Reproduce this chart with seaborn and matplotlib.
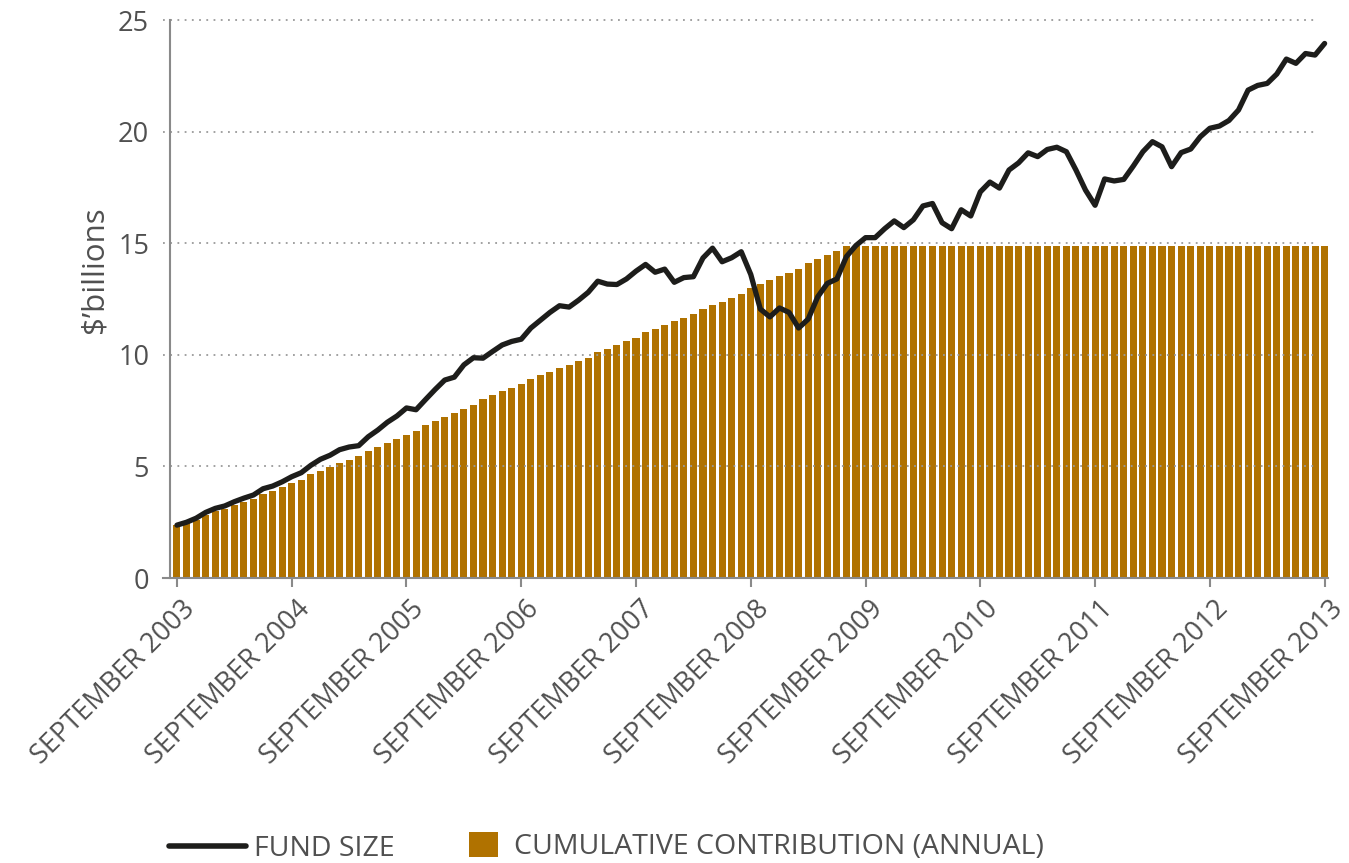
import numpy as np
import pandas as pd
import seaborn as sns
import matplotlib.pyplot as plt
from matplotlib.lines import Line2D
from matplotlib.patches import Patch
from matplotlib.transforms import ScaledTranslation

# monthly data, september 2003 .. september 2013
month = list(range(121))

contribution = [
    2.37, 2.45, 2.60, 2.82, 3.00, 3.08, 3.27, 3.42, 3.54, 3.76, 3.90, 4.08,
    4.27, 4.39, 4.66, 4.79, 4.96, 5.15, 5.29, 5.47, 5.69, 5.87, 6.05, 6.23,
    6.41, 6.59, 6.85, 7.03, 7.21, 7.39, 7.57, 7.75, 8.02, 8.20, 8.38, 8.51,
    8.69, 8.92, 9.10, 9.23, 9.41, 9.54, 9.72, 9.86, 10.13, 10.26, 10.44, 10.62,
    10.75, 11.02, 11.16, 11.34, 11.51, 11.65, 11.83, 12.05, 12.23, 12.37, 12.54, 12.72,
    12.99, 13.17, 13.35, 13.53, 13.66, 13.84, 14.11, 14.29, 14.47, 14.65, 14.87, 14.87,
    14.87, 14.87, 14.87, 14.87, 14.87, 14.87, 14.87, 14.87, 14.87, 14.87, 14.87, 14.87,
    14.87, 14.87, 14.87, 14.87, 14.87, 14.87, 14.87, 14.87, 14.87, 14.87, 14.87, 14.87,
    14.87, 14.87, 14.87, 14.87, 14.87, 14.87, 14.87, 14.87, 14.87, 14.87, 14.87, 14.87,
    14.87, 14.87, 14.87, 14.87, 14.87, 14.87, 14.87, 14.87, 14.87, 14.87, 14.87, 14.87,
    14.87,
]

fund_size = [
    2.37, 2.50, 2.68, 2.94, 3.12, 3.23, 3.42, 3.58, 3.72, 4.00, 4.12, 4.31,
    4.54, 4.72, 5.05, 5.32, 5.50, 5.75, 5.87, 5.93, 6.33, 6.63, 6.98, 7.26,
    7.62, 7.54, 8.00, 8.45, 8.87, 9.00, 9.55, 9.87, 9.85, 10.15, 10.44, 10.60,
    10.70, 11.20, 11.55, 11.90, 12.20, 12.14, 12.45, 12.80, 13.30, 13.17, 13.15, 13.40,
    13.75, 14.05, 13.70, 13.84, 13.25, 13.46, 13.50, 14.34, 14.78, 14.17, 14.35, 14.62,
    13.60, 12.05, 11.70, 12.10, 11.90, 11.20, 11.60, 12.60, 13.20, 13.40, 14.40, 14.90,
    15.25, 15.25, 15.65, 16.00, 15.70, 16.05, 16.67, 16.78, 15.92, 15.65, 16.50, 16.22,
    17.30, 17.74, 17.47, 18.28, 18.60, 19.05, 18.88, 19.20, 19.30, 19.10, 18.28, 17.38,
    16.70, 17.88, 17.79, 17.86, 18.46, 19.10, 19.55, 19.32, 18.43, 19.06, 19.22, 19.77,
    20.15, 20.25, 20.50, 20.97, 21.86, 22.07, 22.16, 22.58, 23.25, 23.06, 23.50, 23.43,
    23.95,
]

tick_pos = [0, 12, 24, 36, 48, 60, 72, 84, 96, 108, 120]
tick_labels = ['SEPTEMBER 2003', 'SEPTEMBER 2004', 'SEPTEMBER 2005', 'SEPTEMBER 2006',
               'SEPTEMBER 2007', 'SEPTEMBER 2008', 'SEPTEMBER 2009', 'SEPTEMBER 2010',
               'SEPTEMBER 2011', 'SEPTEMBER 2012', 'SEPTEMBER 2013']
y_ticks = [0, 5, 10, 15, 20, 25]

df = pd.DataFrame({'month': month, 'contribution': contribution, 'fund': fund_size})

gold = '#b07200'
grey_txt = '#505050'
grey_axis = '#8a8a8a'

sns.set_style('white')
plt.rcParams['font.family'] = ['Open Sans', 'DejaVu Sans']

fig = plt.figure(figsize=(13.49, 8.63), dpi=100)
ax = fig.add_axes([0.126, 0.3302, 0.8584, 0.6466])

sns.barplot(data=df, x='month', y='contribution', color=gold, saturation=1,
            width=0.74, linewidth=0, ax=ax, zorder=1)
sns.lineplot(data=df, x='month', y='fund', color='#1d1d1b', lw=3.8, ax=ax, zorder=4)

# dotted grid lines drawn over the bars
ax.hlines(y_ticks[1:], -1.46, 119.25, colors='#9a9a9a', linestyles=(0, (1, 3)),
          lw=1.3, zorder=2, clip_on=False)

ax.set_xlim(-0.73, 120.35)
ax.set_ylim(0, 25)

for s in ['top', 'right']:
    ax.spines[s].set_visible(False)
for s in ['left', 'bottom']:
    ax.spines[s].set_color(grey_axis)
    ax.spines[s].set_linewidth(1.5)
ax.spines['bottom'].set_bounds(-1.46, 120.35)

ax.set_yticks(y_ticks)
ax.set_yticklabels([str(v) for v in y_ticks])
ax.tick_params(axis='y', length=0, pad=15, labelsize=19.5, labelcolor=grey_txt)

ax.set_xticks(tick_pos)
ax.set_xticklabels(tick_labels, rotation=45, ha='right', va='top',
                   rotation_mode='anchor')
ax.tick_params(axis='x', length=6.5, width=1.5, color=grey_axis, pad=9,
               labelsize=19.5, labelcolor=grey_txt, bottom=True)
shift = ScaledTranslation(4 / 100, 4 / 100, fig.dpi_scale_trans)
for lab in ax.get_xticklabels():
    lab.set_transform(lab.get_transform() + shift)

ax.set_xlabel('')
ax.set_ylabel(r'\$’billions', fontsize=22.5, color=grey_txt)
ax.yaxis.set_label_coords(-0.052, 0.552)

# legend along the bottom
fig.legend(handles=[Line2D([], [], color='#1d1d1b', lw=4)], labels=['FUND SIZE'],
           loc='center left', bbox_to_anchor=(0.125, 0.016), frameon=False,
           fontsize=20.5, handlelength=2.7, handletextpad=0.3, borderpad=0,
           borderaxespad=0, labelcolor=grey_txt)
fig.legend(handles=[Patch(facecolor=gold, edgecolor='none')],
           labels=['CUMULATIVE CONTRIBUTION (ANNUAL)'],
           loc='center left', bbox_to_anchor=(0.348, 0.019), frameon=False,
           fontsize=20.5, handlelength=1.0, handleheight=1.0, handletextpad=0.55,
           borderpad=0, borderaxespad=0, labelcolor=grey_txt)

fig.savefig('out.png', dpi=100)
